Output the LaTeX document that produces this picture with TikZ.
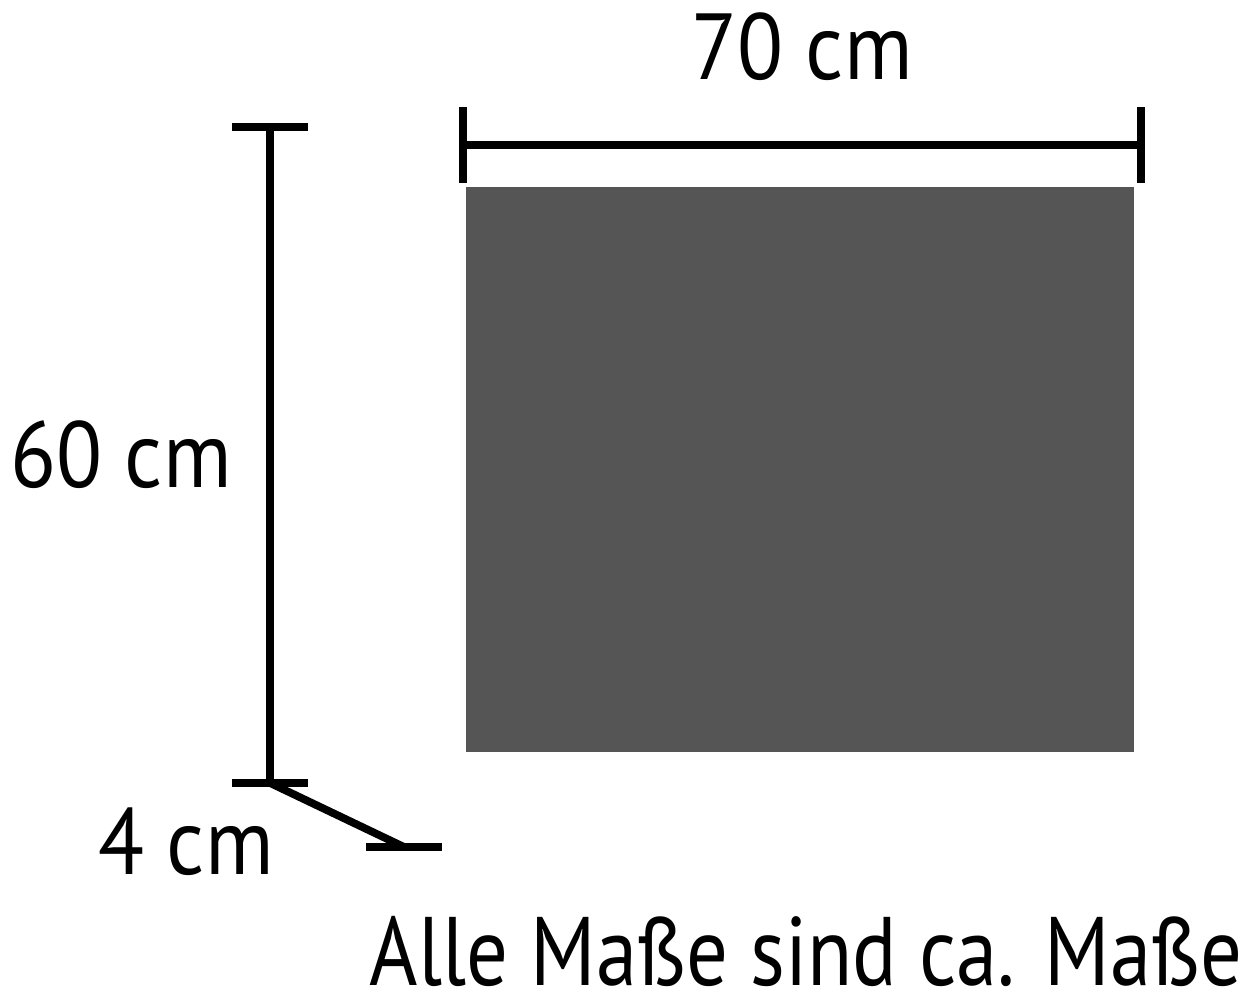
\documentclass[tikz,border=0pt]{standalone}
\usepackage{fontspec}
\setmainfont{PT Sans}
\usepackage{graphicx}
\definecolor{panelgray}{RGB}{85,85,85}

\begin{document}
\begin{tikzpicture}[
    dimline/.style={line width=2.2pt,line cap=butt},
    dimtext/.style={inner sep=0pt,anchor=base,font=\fontsize{26.7}{30}\selectfont},
    notetext/.style={inner sep=0pt,anchor=base,font=\fontsize{27.7}{31}\selectfont}]
    \useasboundingbox (0,0) rectangle (12.46,10);

    % panel
    \fill[panelgray] (4.66,2.48) rectangle (11.34,8.13);

    % width 70 cm
    \coordinate (wl) at (4.63,8.55);
    \coordinate (wr) at (11.41,8.55);
    \draw[dimline] (wl) -- (wr);
    \draw[dimline] ([yshift=-0.38cm]wl) -- ([yshift=0.38cm]wl);
    \draw[dimline] ([yshift=-0.38cm]wr) -- ([yshift=0.38cm]wr);

    % height 60 cm
    \coordinate (ht) at (2.70,8.73);
    \coordinate (hb) at (2.70,2.17);
    \draw[dimline] (ht) -- (hb);
    \draw[dimline] ([xshift=-0.38cm]ht) -- ([xshift=0.38cm]ht);
    \draw[dimline] ([xshift=-0.38cm]hb) -- ([xshift=0.38cm]hb);

    % depth 4 cm
    \coordinate (dp) at (4.04,1.53);
    \draw[dimline] (hb) -- (dp);
    \draw[dimline] ([xshift=-0.38cm]dp) -- ([xshift=0.38cm]dp);

    % labels
    \path (8.02,9.20) node[dimtext] (wlabel) {\scalebox{0.9}[1]{70 cm}}
          (1.21,5.12) node[dimtext] (hlabel) {\scalebox{0.9}[1]{60 cm}}
          (1.86,1.25) node[dimtext] (dlabel) {\scalebox{0.9}[1]{4 cm}}
          (8.06,0.14) node[notetext] (note) {\scalebox{0.85}[1]{Alle Maße sind ca. Maße}};
\end{tikzpicture}
\end{document}
